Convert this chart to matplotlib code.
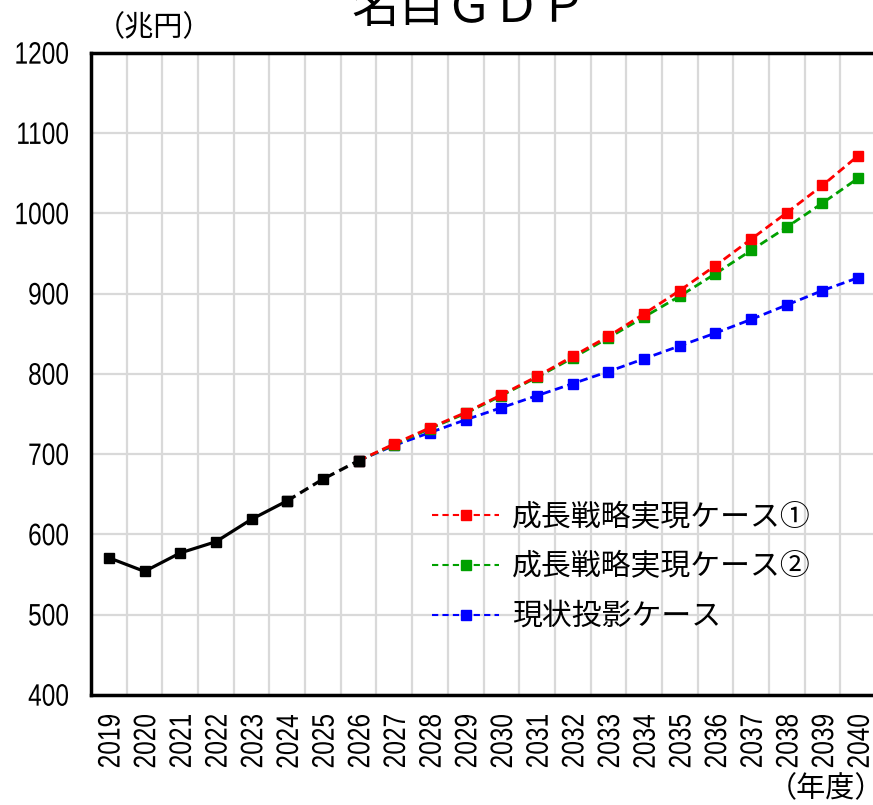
import matplotlib
matplotlib.use("Agg")
import matplotlib.pyplot as plt
import numpy as np
from matplotlib.font_manager import FontProperties
from matplotlib.textpath import TextPath
from matplotlib.patches import PathPatch
from matplotlib.transforms import Affine2D, ScaledTranslation
from matplotlib.lines import Line2D

# ── data (兆円) ───────────────────────────────────────────────
years = list(range(2019, 2041))
actual_years = [2019, 2020, 2021, 2022, 2023, 2024]
actual = [571, 554, 577, 591, 619, 642]
bridge_years = [2024, 2025, 2026]
bridge = [642, 669, 692]
proj_years = list(range(2026, 2041))
case1 = [692, 713, 733, 752, 774, 797, 822, 847, 875, 904, 935, 968, 1001, 1035, 1072]
case2 = [692, 712, 732, 751, 773, 796, 820, 845, 871, 897, 925, 954, 983, 1013, 1044]
base = [692, 711, 727, 743, 758, 773, 788, 803, 819, 835, 851, 868, 886, 904, 920]
yticks = [400, 500, 600, 700, 800, 900, 1000, 1100, 1200]
labels = ["成長戦略実現ケース①", "成長戦略実現ケース②", "現状投影ケース"]
colors = ["#ff0000", "#00a000", "#0000ff"]

JP = ["Noto Sans CJK JP", "DejaVu Sans"]
plt.rcParams["font.family"] = JP
NUM_FP = FontProperties(family="Liberation Sans")
NUM_PX = 31.0      # em size of the numbers, px
SQUEEZE = 0.79     # narrow look of the original numerals


def narrow_label(ax, s, anchor_trans, x, y, rotate=False, pad=0):
    """Draw a horizontally squeezed number as a path (tick labels)."""
    tp = TextPath((0, 0), s, size=NUM_PX, prop=NUM_FP)
    bb = tp.get_extents()
    t = Affine2D().translate(-bb.x1, -(bb.y0 + bb.y1) / 2).scale(SQUEEZE, 1)
    if rotate:
        t = t.rotate_deg(90).translate(0, -pad)
    else:
        t = t.translate(-pad, 0)
    tr = t + ScaledTranslation(x, y, anchor_trans)
    ax.add_patch(PathPatch(tp, transform=tr, facecolor="black", edgecolor="none",
                           clip_on=False))


fig = plt.figure(figsize=(8.73, 8.05), dpi=100)
ax = fig.add_axes([91 / 873, 1 - 695 / 805, 785 / 873, 642 / 805])

idx = {y: i for i, y in enumerate(years)}
px = lambda ys: [idx[y] for y in ys]

dash = (0, (3.0, 1.7))
common = dict(linewidth=2.0, marker="s", markersize=7.5, linestyle=dash)
ax.plot(px(proj_years), base, color=colors[2], zorder=3, **common)
ax.plot(px(proj_years), case2, color=colors[1], zorder=4, **common)
ax.plot(px(proj_years), case1, color=colors[0], zorder=5, **common)
ax.plot(px(bridge_years), bridge, color="black", linewidth=2.3, linestyle=dash,
        marker="s", markersize=7.5, zorder=6)
ax.plot(px(actual_years), actual, color="black", linewidth=2.3, marker="s",
        markersize=7.5, zorder=7)

ax.set_xlim(-0.5, len(years) - 0.5)
ax.set_ylim(yticks[0], yticks[-1])
ax.set_yticks(yticks)
ax.set_xticks(range(len(years)))
ax.tick_params(axis="both", length=0, labelleft=False, labelbottom=False)

for i, yr in enumerate(years):
    narrow_label(ax, str(yr), ax.get_xaxis_transform(), i, 0, rotate=True, pad=20)
for v in yticks:
    narrow_label(ax, str(v), ax.get_yaxis_transform(), 0, v, pad=23)

ax.set_xticks(np.arange(-0.5, len(years), 1), minor=True)
ax.tick_params(which="minor", length=0)
ax.grid(which="minor", axis="x", color="#d9d9d9", linewidth=1.6)
ax.grid(which="major", axis="y", color="#d9d9d9", linewidth=1.6)
ax.set_axisbelow(True)
for s in ["left", "bottom", "top"]:
    ax.spines[s].set_linewidth(2.5)
ax.spines["right"].set_visible(False)

handles = [Line2D([], [], color=c, linestyle=(0, (3.0, 2.0)), linewidth=1.5,
                  marker="s", markersize=6.5) for c in colors]
ax.legend(handles, labels, loc="upper left",
          bbox_to_anchor=(420 / 873, 1 - 490 / 805), bbox_transform=fig.transFigure,
          frameon=False, fontsize=21.5, handlelength=2.25, handletextpad=0.42,
          labelspacing=0.62, borderaxespad=0)

fig.text(470 / 873, 1 - 22 / 805, "名目ＧＤＰ", ha="center", va="baseline", fontsize=34)
fig.text(154 / 873, 1 - 28 / 805, "（兆円）", ha="center", va="center", fontsize=21)
fig.text(826 / 873, 1 - 789 / 805, "（年度）", ha="center", va="center", fontsize=21)

fig.savefig("out.png", dpi=100)
